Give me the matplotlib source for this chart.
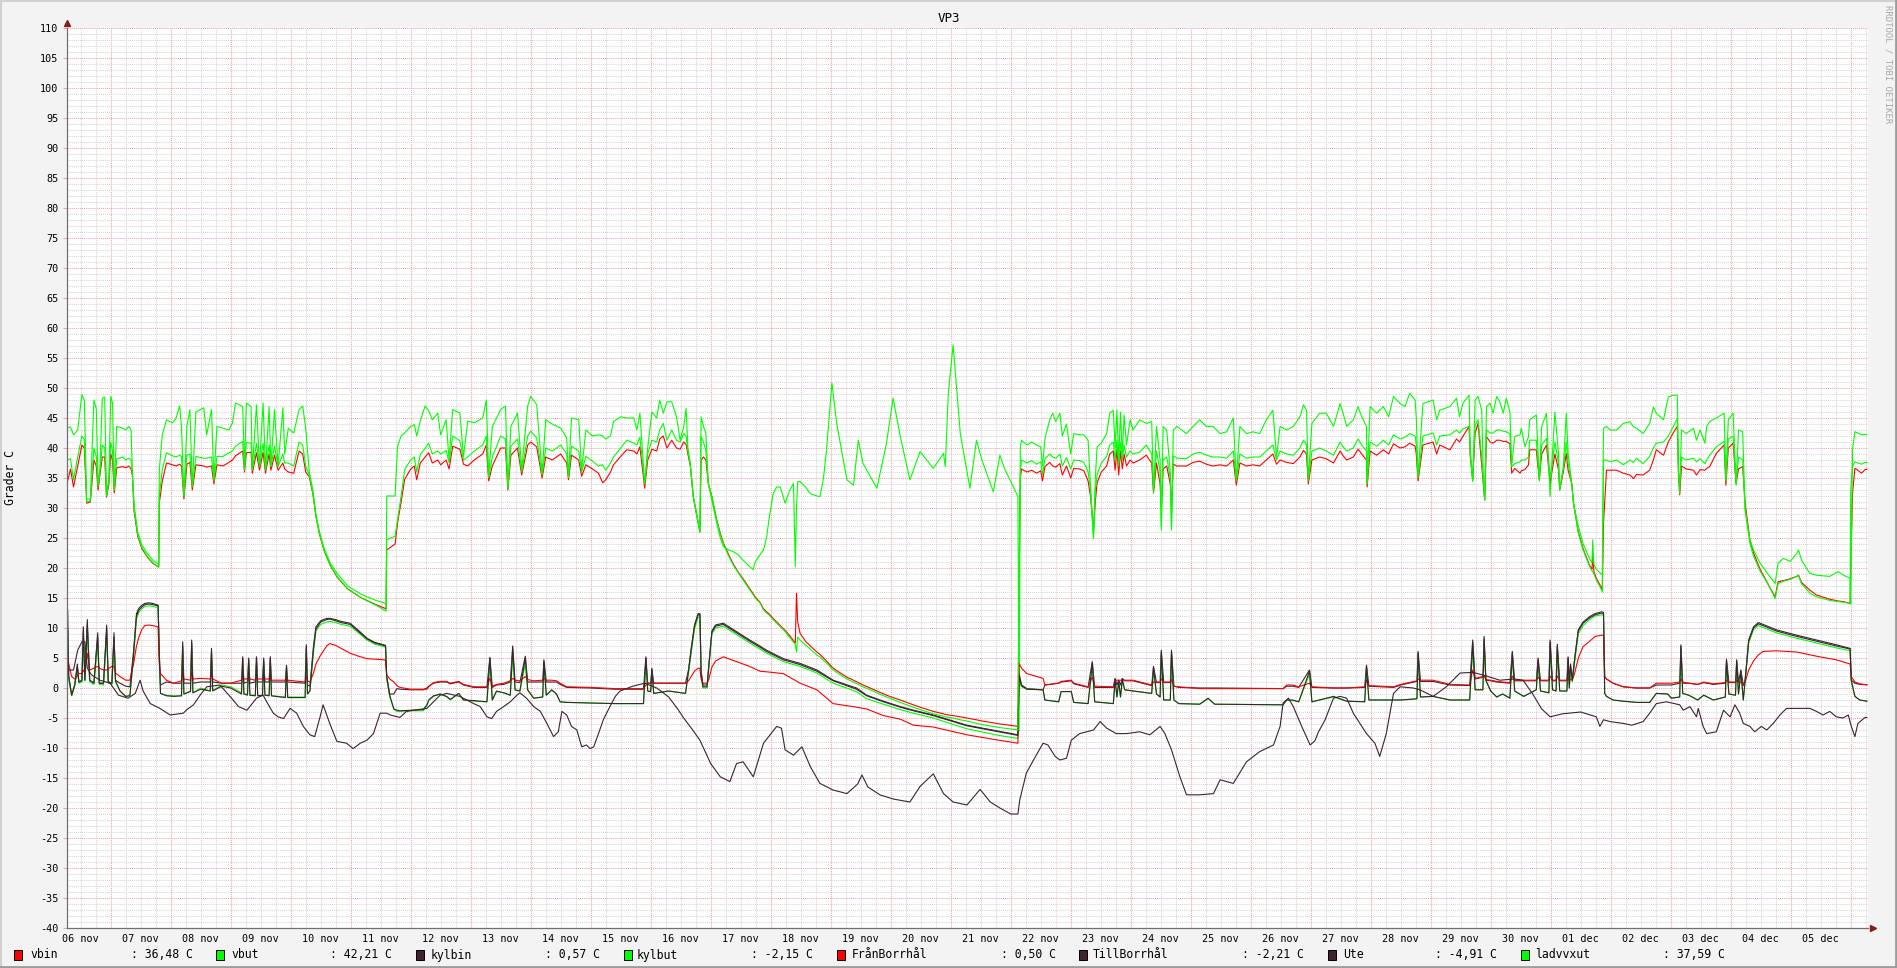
import numpy as np
import matplotlib
matplotlib.use("Agg")
import matplotlib.pyplot as plt
from matplotlib.patches import Rectangle

# time in days since 06 nov 00:00
# heat pump side: vbut / ladvvxut / vbin share one time list
t_hi = [0.27, 0.33, 0.38, 0.45, 0.52, 0.56, 0.60, 0.66, 0.72, 0.76,
        0.79, 0.82, 0.86, 0.90, 0.93, 0.97, 1.00, 1.03, 1.06, 1.10,
        1.20, 1.25, 1.30, 1.34, 1.36, 1.39, 1.45, 1.52, 1.62, 1.71,
        1.80, 1.81, 1.86, 1.93, 2.03, 2.09, 2.15, 2.18, 2.22, 2.27,
        2.32, 2.36, 2.42, 2.55, 2.60, 2.68, 2.72, 2.77, 2.87, 2.97,
        3.03, 3.08, 3.20, 3.23, 3.26, 3.34, 3.36, 3.43, 3.48, 3.54,
        3.58, 3.64, 3.67, 3.73, 3.79, 3.87, 3.90, 3.96, 4.05, 4.14,
        4.20, 4.25, 4.31, 4.37, 4.42, 4.48, 4.56, 4.66, 4.78, 4.95,
        5.18, 5.42, 5.59, 5.60, 5.74, 5.78, 5.84, 5.90, 6.00, 6.06,
        6.10, 6.16, 6.24, 6.30, 6.36, 6.45, 6.50, 6.59, 6.64, 6.70,
        6.82, 6.88, 6.95, 7.06, 7.20, 7.26, 7.30, 7.36, 7.50, 7.58,
        7.62, 7.67, 7.78, 7.85, 7.95, 8.00, 8.10, 8.19, 8.25, 8.36,
        8.50, 8.60, 8.63, 8.68, 8.80, 8.85, 8.92, 9.03, 9.13, 9.20,
        9.25, 9.33, 9.38, 9.50, 9.60, 9.72, 9.77, 9.82, 9.90, 9.95,
        10.02, 10.10, 10.15, 10.21, 10.27, 10.35, 10.43, 10.49, 10.55, 10.59,
        10.62, 10.66, 10.71, 10.77, 10.82, 10.84, 10.88, 10.92, 10.96, 11.02,
        11.10, 11.16, 11.21, 11.30, 11.38, 11.46, 11.54, 11.62, 11.71, 11.74,
        11.82, 11.88, 11.93, 11.97, 12.04, 12.10, 12.16, 12.24, 12.32, 12.38,
        12.41, 12.43, 12.45, 12.49, 12.58, 12.66, 12.77, 12.82, 12.88, 12.93,
        13.02, 13.10, 13.27, 13.38, 13.46, 13.54, 13.77, 13.93, 14.04, 14.16,
        14.32, 14.49, 14.71, 14.88, 14.91, 14.96, 15.04, 15.16, 15.32, 15.43,
        15.52, 15.71, 15.82, 15.90, 16.04, 16.12, 16.14, 16.16, 16.18, 16.27,
        16.35, 16.43, 16.50, 16.53, 16.57, 16.65, 16.70, 16.75, 16.82, 16.86,
        16.93, 17.00, 17.05, 17.15, 17.22, 17.29, 17.33, 17.38, 17.41, 17.44,
        17.51, 17.60, 17.65, 17.71, 17.74, 17.77, 17.80, 17.83, 17.86, 17.89,
        17.93, 17.99, 18.04, 18.15, 18.26, 18.35, 18.38, 18.43, 18.49, 18.51,
        18.54, 18.60, 18.66, 18.68, 18.71, 18.77, 18.93, 19.04, 19.15, 19.26,
        19.37, 19.49, 19.60, 19.71, 19.76, 19.82, 19.93, 20.04, 20.15, 20.26,
        20.37, 20.43, 20.49, 20.60, 20.71, 20.82, 20.88, 20.93, 20.96, 21.02,
        21.15, 21.26, 21.38, 21.49, 21.54, 21.60, 21.71, 21.79, 21.85, 21.93,
        21.94, 21.99, 22.10, 22.21, 22.30, 22.38, 22.49, 22.57, 22.65, 22.74,
        22.76, 22.79, 22.87, 23.04, 23.10, 23.15, 23.32, 23.43, 23.48, 23.54,
        23.64, 23.66, 23.70, 23.74, 23.79, 23.85, 23.88, 23.90, 23.93, 23.99,
        24.04, 24.10, 24.15, 24.21, 24.26, 24.32, 24.35, 24.40, 24.49, 24.51,
        24.57, 24.63, 24.65, 24.76, 24.81, 24.85, 24.93, 24.99, 25.02, 25.07,
        25.13, 25.15, 25.21, 25.26, 25.29, 25.35, 25.38, 25.46, 25.54, 25.65,
        25.69, 25.70, 25.72, 25.76, 25.82, 25.86, 25.88, 25.93, 25.99, 26.10,
        26.21, 26.32, 26.38, 26.43, 26.54, 26.65, 26.71, 26.76, 26.88, 26.96,
        27.04, 27.11, 27.13, 27.15, 27.18, 27.26, 27.38, 27.43, 27.49, 27.57,
        27.60, 27.65, 27.76, 27.89, 27.92, 27.96, 28.04, 28.09, 28.13, 28.20,
        28.24, 28.32, 28.38, 28.49, 28.65, 28.74, 28.79, 28.88, 28.99, 29.10,
        29.13, 29.18, 29.32, 29.43, 29.65, 29.79, 29.88, 29.99, 30.00, 30.03,
        30.07, 30.12, 30.18, 30.24, 30.27]

vbut = [43.3, 43.5, 42.2, 43.0, 48.9, 48.0, 31.5, 31.5, 48.0, 46.5,
        34.0, 36.5, 48.3, 48.5, 32.0, 35.0, 48.6, 47.5, 33.0, 43.6,
        43.3, 43.0, 43.6, 43.0, 36.4, 30.5, 26.0, 23.8, 22.3, 21.2,
        20.6, 36.4, 42.2, 44.7, 44.2, 45.0, 47.0, 43.5, 32.0, 43.6,
        46.4, 33.6, 46.0, 46.7, 42.2, 46.4, 34.7, 43.6, 43.3, 43.0,
        44.2, 47.5, 46.9, 36.4, 47.5, 46.9, 36.4, 47.2, 37.0, 47.5,
        36.4, 46.9, 37.0, 46.4, 37.0, 46.7, 39.0, 43.3, 42.5, 46.4,
        47.0, 43.3, 36.0, 33.0, 29.0, 26.0, 23.2, 20.8, 19.0, 17.0,
        15.6, 14.6, 14.1, 32.0, 32.0, 40.3, 42.0, 42.5, 43.6, 43.9,
        42.0, 44.5, 47.0, 46.2, 44.7, 45.8, 42.2, 44.7, 38.0, 46.4,
        45.8, 38.5, 44.5, 44.2, 45.0, 48.0, 35.3, 43.6, 46.4, 47.0,
        33.5, 43.6, 45.8, 36.5, 47.0, 48.6, 47.2, 35.8, 44.7, 44.0,
        43.3, 41.7, 35.3, 45.0, 44.7, 36.4, 43.0, 42.0, 42.2, 42.0,
        41.5, 42.0, 44.4, 45.2, 45.0, 45.0, 43.0, 45.8, 34.1, 40.0,
        46.0, 45.0, 48.0, 45.8, 47.7, 47.7, 45.2, 41.3, 43.5, 46.6,
        40.0, 37.4, 32.0, 28.8, 26.2, 45.2, 43.6, 42.4, 34.1, 31.2,
        27.5, 25.0, 23.6, 23.0, 22.7, 22.2, 21.3, 20.5, 19.7, 21.0,
        22.2, 23.0, 25.0, 28.0, 32.4, 33.5, 33.5, 30.8, 33.0, 34.1,
        20.2, 30.0, 34.4, 34.4, 33.5, 32.4, 32.0, 31.9, 35.0, 39.7,
        50.8, 44.1, 34.7, 33.8, 41.3, 37.4, 33.3, 40.8, 48.3, 41.9,
        34.7, 39.4, 36.6, 39.1, 36.9, 49.1, 57.2, 42.4, 33.3, 41.3,
        38.0, 32.7, 38.8, 36.5, 33.6, 31.9, -7.2, 40.0, 41.3, 40.5,
        41.0, 40.5, 40.2, 37.0, 41.5, 44.7, 45.8, 44.4, 45.8, 42.0,
        44.0, 39.0, 42.4, 42.2, 42.2, 41.3, 33.6, 24.9, 35.0, 40.2,
        40.8, 42.4, 45.8, 46.3, 40.0, 46.3, 38.0, 46.0, 39.0, 45.5,
        40.5, 44.7, 43.0, 44.7, 44.1, 44.4, 32.5, 43.6, 38.0, 26.3,
        43.6, 43.0, 36.0, 26.3, 43.0, 43.6, 42.4, 43.6, 44.7, 43.6,
        43.6, 42.4, 42.7, 45.0, 34.7, 43.6, 42.4, 42.7, 42.4, 44.7,
        46.3, 38.5, 43.6, 43.0, 43.6, 45.2, 47.2, 46.3, 34.7, 44.1,
        45.8, 45.8, 43.6, 47.4, 45.8, 43.6, 44.7, 46.9, 45.2, 43.6,
        34.1, 46.9, 45.8, 46.9, 45.2, 48.6, 47.4, 46.9, 49.1, 48.0,
        45.0, 35.2, 47.4, 48.0, 44.7, 46.3, 46.9, 48.3, 45.2, 47.5,
        48.8, 39.1, 34.4, 48.0, 48.6, 46.3, 34.1, 31.3, 46.9, 47.5,
        45.8, 48.6, 47.7, 45.8, 48.3, 46.0, 36.9, 41.9, 42.2, 43.3,
        40.2, 41.9, 44.7, 45.5, 34.7, 43.6, 45.8, 31.9, 37.4, 46.0,
        39.1, 33.0, 36.9, 45.8, 39.1, 34.1, 30.8, 27.0, 24.0, 21.5,
        20.9, 24.7, 20.6, 19.8, 19.2, 18.8, 43.3, 43.6, 43.0, 43.0,
        44.1, 44.4, 43.5, 43.3, 42.4, 44.1, 46.8, 45.8, 44.7, 48.5,
        48.8, 48.8, 36.3, 32.4, 43.0, 42.4, 43.3, 41.3, 43.0, 40.8,
        43.6, 44.4, 45.0, 45.8, 34.7, 44.7, 45.8, 33.8, 43.0, 42.7,
        29.7, 24.7, 23.0, 20.8, 18.6, 17.4, 20.8, 21.6, 21.1, 22.4,
        23.0, 21.3, 19.1, 18.8, 18.6, 19.4, 18.8, 18.3, 14.0, 39.7,
        42.7, 42.5, 42.2, 42.3, 42.21]

ladvvxut = [38.0, 38.2, 34.7, 38.5, 42.0, 41.5, 31.0, 31.2, 40.0, 38.5,
            33.5, 36.0, 40.5, 40.0, 32.0, 34.5, 41.0, 39.5, 33.0, 38.2,
            38.5, 38.0, 38.3, 38.0, 36.0, 30.0, 25.5, 23.4, 21.8, 20.8,
            20.1, 32.0, 36.4, 39.2, 38.7, 38.5, 38.8, 38.5, 32.0, 38.8,
            39.0, 33.5, 38.6, 38.3, 38.3, 38.5, 34.5, 38.6, 38.6, 39.2,
            39.5, 40.3, 41.1, 36.3, 40.9, 40.8, 36.3, 40.8, 36.9, 40.8,
            36.3, 40.5, 36.9, 40.3, 36.9, 39.0, 37.5, 37.5, 37.0, 41.0,
            40.5, 37.0, 35.5, 32.5, 28.7, 25.7, 22.9, 20.4, 18.5, 16.5,
            15.0, 13.8, 12.8, 24.7, 25.3, 28.0, 32.0, 36.4, 38.0, 38.5,
            36.0, 38.9, 40.0, 40.8, 39.0, 39.5, 39.0, 39.6, 37.5, 42.0,
            41.2, 38.0, 38.5, 39.5, 40.5, 42.0, 35.0, 38.5, 42.0, 41.5,
            33.3, 40.3, 41.5, 36.0, 42.0, 42.8, 41.7, 35.5, 40.0, 39.5,
            40.5, 39.0, 35.0, 40.3, 39.5, 36.0, 38.6, 37.8, 37.0, 37.2,
            36.3, 37.5, 38.5, 40.0, 41.3, 40.8, 40.5, 41.8, 34.0, 39.0,
            41.3, 41.0, 43.0, 44.1, 41.3, 43.0, 41.3, 41.0, 42.4, 42.0,
            39.5, 37.2, 31.9, 28.6, 26.0, 41.9, 41.0, 39.5, 34.1, 31.9,
            28.0, 25.6, 24.0, 22.0, 20.4, 19.2, 18.0, 16.8, 15.5, 15.0,
            14.2, 13.0, 12.5, 12.2, 11.4, 10.8, 10.2, 9.4, 8.4, 7.6,
            7.3, 6.0, 8.5, 8.0, 7.2, 6.5, 5.5, 5.2, 4.6, 4.2,
            3.2, 2.6, 1.5, 1.0, 0.6, 0.2, -0.8, -1.5, -1.9, -2.4,
            -3.0, -3.6, -4.3, -4.7, -4.8, -4.9, -5.0, -5.3, -5.6, -5.9,
            -6.1, -6.4, -6.6, -6.7, -6.9, -7.0, 20.0, 36.0, 38.0, 37.5,
            37.9, 37.3, 37.7, 35.5, 38.2, 39.0, 38.5, 38.3, 39.0, 37.0,
            38.4, 36.5, 38.0, 37.9, 37.6, 36.0, 33.0, 25.0, 33.0, 35.5,
            37.5, 38.6, 40.5, 41.0, 38.0, 41.3, 37.0, 41.0, 38.0, 40.5,
            38.5, 39.5, 39.0, 39.3, 40.5, 39.0, 33.0, 39.5, 36.0, 27.0,
            38.0, 38.5, 35.0, 27.0, 38.7, 38.3, 38.2, 39.0, 39.3, 38.8,
            38.5, 38.5, 38.3, 39.5, 34.5, 39.0, 38.3, 38.5, 38.5, 39.5,
            40.5, 38.0, 39.5, 39.0, 38.8, 40.0, 41.3, 40.5, 34.5, 39.5,
            40.0, 39.5, 38.8, 41.0, 40.2, 39.5, 40.0, 41.5, 40.5, 39.5,
            34.0, 41.0, 40.3, 41.3, 40.5, 42.2, 41.5, 41.8, 42.4, 42.0,
            40.5, 35.0, 42.0, 42.5, 40.5, 42.0, 42.2, 43.0, 42.5, 43.2,
            43.6, 39.5, 34.5, 43.8, 44.7, 38.5, 34.0, 31.5, 43.0, 42.5,
            42.5, 43.0, 43.0, 42.8, 42.7, 42.4, 36.9, 37.4, 37.7, 38.0,
            38.0, 38.5, 41.3, 41.3, 34.5, 40.5, 41.6, 35.2, 37.0, 41.0,
            37.4, 33.0, 36.5, 41.0, 37.4, 34.1, 30.8, 25.8, 23.0, 20.2,
            19.5, 19.4, 19.0, 18.0, 16.9, 16.0, 38.0, 38.0, 37.7, 38.0,
            37.2, 38.0, 37.6, 38.3, 37.4, 38.6, 40.0, 40.8, 41.0, 42.0,
            43.5, 44.9, 36.0, 34.1, 38.5, 38.0, 38.3, 37.7, 38.2, 37.4,
            38.0, 38.8, 40.2, 41.1, 34.5, 41.5, 42.0, 34.0, 38.5, 38.0,
            29.7, 24.1, 22.0, 19.5, 16.8, 14.9, 17.4, 17.8, 18.1, 18.6,
            18.8, 17.4, 15.8, 15.2, 14.6, 14.4, 14.3, 14.1, 33.0, 36.9,
            37.7, 37.5, 37.3, 37.6, 37.59]

vbin = [34.0, 36.5, 33.5, 37.0, 40.5, 40.0, 30.8, 31.0, 38.0, 37.0,
        33.0, 35.5, 38.5, 38.5, 31.8, 34.0, 39.0, 38.0, 32.5, 36.7,
        36.9, 36.7, 37.0, 36.5, 35.5, 29.5, 25.3, 23.2, 21.7, 20.7,
        20.2, 30.8, 34.5, 37.5, 37.2, 37.0, 37.3, 37.0, 31.5, 37.3,
        37.6, 33.0, 37.2, 37.0, 36.8, 37.0, 34.0, 37.2, 37.0, 37.6,
        38.0, 38.7, 39.5, 36.0, 39.2, 39.3, 35.8, 39.2, 36.3, 39.3,
        35.8, 39.0, 36.3, 38.8, 36.3, 37.5, 36.5, 36.0, 35.8, 39.5,
        39.0, 36.0, 35.2, 32.3, 28.6, 25.6, 22.8, 20.4, 18.4, 16.5,
        15.0, 13.9, 13.2, 23.0, 24.0, 27.5, 31.0, 34.8, 36.5, 37.0,
        34.7, 37.5, 38.5, 39.2, 37.5, 38.0, 37.2, 38.0, 36.5, 40.3,
        39.8, 37.3, 37.0, 38.0, 39.0, 40.5, 34.5, 37.0, 40.0, 40.0,
        33.0, 38.8, 40.0, 35.5, 40.5, 41.0, 40.2, 35.0, 38.5, 38.0,
        39.0, 37.5, 34.7, 38.8, 38.0, 35.3, 37.2, 36.5, 35.8, 34.2,
        34.7, 36.0, 37.2, 38.6, 39.7, 39.5, 39.0, 40.2, 33.3, 38.0,
        39.8, 39.5, 41.5, 42.0, 40.0, 41.3, 40.0, 39.8, 41.0, 40.6,
        39.0, 37.0, 31.8, 28.6, 26.0, 38.0, 38.5, 38.0, 34.1, 31.9,
        28.0, 25.8, 24.2, 22.2, 20.6, 19.3, 18.2, 17.0, 15.7, 15.2,
        14.3, 13.2, 12.7, 12.4, 11.6, 11.0, 10.4, 9.6, 8.7, 7.9,
        7.5, 15.8, 11.0, 9.1, 7.8, 7.0, 6.0, 5.6, 5.0, 4.5,
        3.5, 2.9, 1.8, 1.3, 0.9, 0.5, -0.5, -1.2, -1.6, -2.0,
        -2.6, -3.2, -3.9, -4.3, -4.4, -4.5, -4.6, -4.8, -5.1, -5.3,
        -5.5, -5.8, -6.0, -6.1, -6.3, -6.4, 17.0, 35.0, 36.5, 36.0,
        36.3, 35.8, 36.2, 34.5, 36.9, 37.6, 37.0, 36.8, 37.4, 35.5,
        37.0, 35.0, 36.6, 36.5, 36.2, 34.5, 32.0, 26.3, 31.0, 34.2,
        36.0, 37.0, 39.0, 39.5, 36.3, 39.8, 35.5, 39.5, 36.5, 39.0,
        37.0, 38.0, 37.5, 38.0, 38.8, 37.5, 32.5, 37.5, 34.0, 30.2,
        36.5, 37.0, 34.0, 30.2, 37.3, 37.0, 37.0, 37.6, 37.8, 37.3,
        37.0, 37.2, 37.0, 38.0, 33.8, 37.5, 37.0, 37.2, 37.0, 38.0,
        39.0, 37.3, 38.0, 37.6, 37.4, 38.5, 39.6, 39.0, 34.0, 38.0,
        38.5, 38.2, 37.5, 39.5, 38.7, 38.0, 38.5, 39.8, 39.0, 38.0,
        33.5, 39.5, 38.8, 39.7, 39.0, 40.7, 40.0, 40.2, 40.8, 40.3,
        39.0, 34.5, 40.5, 41.0, 39.0, 40.5, 39.7, 41.5, 41.0, 42.0,
        43.6, 38.5, 34.7, 42.5, 44.1, 37.0, 33.5, 31.3, 41.9, 41.0,
        40.8, 41.3, 41.3, 41.1, 41.1, 40.7, 35.8, 36.6, 35.8, 36.2,
        36.4, 37.2, 39.7, 39.7, 34.7, 39.0, 40.5, 34.1, 36.0, 39.0,
        36.4, 33.0, 36.0, 39.1, 36.3, 34.1, 30.8, 26.0, 23.2, 20.4,
        19.8, 22.7, 19.4, 18.3, 17.2, 16.4, 27.4, 36.3, 36.3, 36.3,
        35.8, 35.5, 34.9, 35.6, 35.5, 36.3, 38.0, 39.7, 38.8, 41.0,
        42.5, 43.6, 35.5, 32.2, 37.0, 36.5, 36.3, 35.5, 36.4, 36.3,
        36.6, 36.9, 39.1, 40.5, 33.8, 40.0, 40.8, 34.1, 36.5, 36.9,
        30.8, 24.7, 22.5, 19.8, 16.8, 15.2, 17.7, 17.9, 18.2, 18.6,
        18.8, 17.6, 16.3, 15.5, 14.8, 14.5, 14.4, 14.1, 19.7, 32.4,
        36.6, 36.3, 35.8, 36.4, 36.48]

# brine / borehole side: kylbin / kylbut / TillBorrhål / FrånBorrhål share one time list
t_lo = [0.27, 0.283, 0.30, 0.35, 0.40, 0.444, 0.47, 0.52, 0.544, 0.57,
        0.61, 0.65, 0.72, 0.783, 0.81, 0.88, 0.933, 0.96, 1.02, 1.055,
        1.08, 1.155, 1.25, 1.32, 1.38, 1.43, 1.47, 1.52, 1.57, 1.63,
        1.70, 1.79, 1.81, 1.83, 1.93, 2.05, 2.18, 2.20, 2.22, 2.33,
        2.35, 2.37, 2.50, 2.66, 2.68, 2.70, 2.85, 3.00, 3.18, 3.20,
        3.22, 3.28, 3.30, 3.32, 3.41, 3.43, 3.45, 3.53, 3.55, 3.57,
        3.64, 3.66, 3.68, 3.91, 3.93, 3.95, 4.24, 4.26, 4.28, 4.32,
        4.38, 4.42, 4.50, 4.60, 4.65, 4.75, 4.84, 4.99, 5.13, 5.27,
        5.40, 5.55, 5.58, 5.60, 5.65, 5.72, 5.77, 5.82, 6.00, 6.21,
        6.27, 6.30, 6.38, 6.43, 6.49, 6.60, 6.66, 6.80, 6.88, 7.05,
        7.27, 7.32, 7.36, 7.43, 7.55, 7.66, 7.70, 7.74, 7.82, 7.91,
        7.95, 8.05, 8.20, 8.22, 8.26, 8.35, 8.43, 8.49, 8.60, 9.00,
        9.40, 9.88, 9.92, 9.95, 10.00, 10.02, 10.05, 10.30, 10.58, 10.63,
        10.68, 10.73, 10.79, 10.82, 10.84, 10.87, 10.94, 10.97, 11.02, 11.08,
        11.21, 11.40, 11.65, 11.82, 11.93, 12.21, 12.49, 12.77, 13.04, 13.43,
        13.60, 13.88, 14.16, 14.38, 14.71, 15.27, 15.80, 16.12, 16.14, 16.18,
        16.27, 16.54, 16.57, 16.80, 16.84, 17.01, 17.05, 17.29, 17.36, 17.40,
        17.71, 17.74, 17.77, 17.80, 17.83, 17.86, 17.90, 18.04, 18.35, 18.38,
        18.43, 18.49, 18.51, 18.55, 18.66, 18.68, 18.72, 18.80, 19.15, 19.29,
        19.40, 20.54, 20.60, 20.70, 20.80, 20.98, 21.02, 21.38, 21.60, 21.90,
        21.93, 21.97, 22.38, 22.50, 22.77, 22.79, 22.83, 23.04, 23.32, 23.65,
        23.70, 23.74, 23.87, 23.89, 23.92, 24.00, 24.10, 24.20, 24.32, 24.36,
        24.40, 24.55, 24.76, 24.79, 24.83, 24.97, 24.99, 25.03, 25.09, 25.11,
        25.15, 25.27, 25.29, 25.31, 25.33, 25.36, 25.40, 25.46, 25.54, 25.65,
        25.74, 25.85, 25.88, 25.90, 25.93, 26.04, 26.21, 26.43, 26.65, 26.76,
        26.95, 27.01, 27.15, 27.17, 27.20, 27.30, 27.45, 27.55, 27.71, 27.91,
        27.93, 27.97, 28.08, 28.10, 28.13, 28.17, 28.21, 28.24, 28.30, 28.38,
        28.46, 28.54, 28.76, 29.10, 29.43, 29.76, 29.99, 30.01, 30.07, 30.15,
        30.27]

kylbin = [3.6, 13.0, 2.0, -1.2, 0.5, 4.0, 1.0, 1.3, 10.2, 1.3,
          11.4, 1.3, 0.8, 9.2, 0.8, 0.8, 10.5, 1.0, 0.8, 9.2,
          1.3, 0.8, 0.3, 0.2, 6.0, 12.4, 13.3, 13.8, 14.1, 14.2,
          14.1, 13.8, 6.0, 0.5, 1.0, 0.8, 0.8, 7.7, 0.8, 0.8,
          8.0, 0.8, 1.0, 1.0, 6.6, 1.0, 0.8, 0.8, 0.8, 5.2,
          0.8, 1.0, 5.0, 0.8, 1.0, 5.2, 1.0, 1.0, 5.0, 1.0,
          1.0, 5.2, 1.0, 1.0, 3.8, 1.0, 0.8, 7.2, 0.5, 0.3,
          7.0, 10.2, 11.2, 11.6, 11.6, 11.4, 11.1, 10.8, 9.6, 8.3,
          7.6, 7.2, 7.1, 1.9, -1.0, -1.0, -0.1, -0.2, -0.3, -0.3,
          0.0, 0.3, 0.8, 0.9, 1.0, 1.0, 0.7, 1.0, 0.5, 0.1,
          0.1, 5.1, 0.1, 0.5, 0.6, 1.0, 7.0, 1.0, 0.9, 5.3,
          1.0, 1.0, 1.0, 4.7, 1.0, 1.0, 1.0, 0.6, 0.1, 0.0,
          -0.2, -0.2, 5.2, 0.8, 0.8, 3.3, 0.8, 0.8, 0.8, 3.0,
          7.0, 10.5, 12.4, 12.4, 3.0, 0.5, 0.5, 4.0, 9.5, 10.5,
          10.8, 9.6, 8.0, 7.0, 6.3, 4.9, 4.1, 3.0, 1.3, 0.0,
          -1.2, -2.2, -3.1, -3.7, -4.5, -6.2, -7.2, -7.8, 2.4, 0.5,
          -0.1, -0.3, 0.5, 0.8, 1.0, 1.2, 0.7, 0.1, 4.4, 0.1,
          0.1, 1.6, 0.5, 1.3, 0.5, 1.6, 1.2, 1.2, 0.4, 3.6,
          0.9, 0.9, 6.3, 0.9, 0.9, 6.3, 0.3, 0.1, 0.0, 0.0,
          0.0, -0.1, 0.3, 0.3, 0.1, 3.0, 0.1, 0.0, 0.0, 0.1,
          3.8, 0.3, 0.1, 0.5, 1.1, 6.1, 1.1, 1.1, 0.5, 0.4,
          8.0, 1.5, 1.8, 8.6, 1.3, 1.2, 1.0, 0.9, 0.8, 6.1,
          1.2, 1.2, 1.2, 5.0, 1.2, 1.2, 8.0, 1.2, 1.2, 7.3,
          1.2, 1.2, 5.2, 0.8, 4.0, 1.3, 5.0, 9.7, 11.0, 11.9,
          12.4, 12.7, 12.6, 1.9, 1.5, 0.8, 0.2, 0.0, 0.0, 0.5,
          0.5, 0.5, 0.8, 7.2, 0.8, 0.8, 0.6, 0.9, 0.6, 0.8,
          4.8, 0.9, 0.9, 4.7, 0.9, 3.0, 0.4, 1.3, 8.0, 10.2,
          10.9, 10.6, 9.7, 8.8, 8.0, 7.2, 6.6, 1.3, 0.8, 0.6,
          0.57]

kylbut = [2.5, 8.0, 1.5, -1.3, 0.3, 3.0, 0.8, 1.0, 8.0, 1.2,
          9.5, 1.0, 0.6, 7.5, 0.6, 0.5, 8.5, 0.8, 0.6, 7.5,
          1.0, -0.5, -1.4, -1.2, 5.0, 11.5, 12.6, 13.2, 13.6, 13.7,
          13.6, 13.4, 5.0, -0.9, -1.2, -1.3, -1.3, 6.0, -1.0, -0.5,
          6.5, -0.8, 0.0, -0.5, 5.0, -0.4, 0.5, 0.2, -0.8, 4.0,
          -1.0, -1.0, 4.0, -1.2, -1.2, 4.0, -1.3, -1.2, 3.8, -1.2,
          -1.2, 4.0, -1.3, -1.5, 3.0, -1.5, -1.5, 6.0, -1.0, -0.5,
          6.0, 9.5, 10.6, 11.0, 11.1, 10.9, 10.6, 10.3, 9.2, 8.0,
          7.3, 6.9, 6.8, 1.5, -1.5, -3.6, -3.9, -3.9, -3.8, -3.8,
          -3.0, -2.1, -1.4, -1.2, -1.0, -1.5, -2.0, -0.9, -2.0, -2.2,
          -2.3, 4.0, -2.0, -0.6, -0.8, -1.2, 5.5, -0.4, -0.5, 4.0,
          -0.4, -1.7, -1.5, 3.5, -1.2, -0.4, -1.0, -2.3, -2.4, -2.5,
          -2.6, -2.6, 4.0, -0.5, -0.6, 2.5, -0.9, -0.5, -0.9, 2.5,
          6.2, 9.8, 11.8, 11.8, 2.0, 0.0, 0.0, 3.5, 9.0, 10.0,
          10.3, 9.1, 7.5, 6.5, 5.8, 4.4, 3.6, 2.5, 0.8, -0.6,
          -1.8, -2.7, -3.6, -4.2, -5.0, -6.8, -7.9, -8.4, 1.0, 0.2,
          -0.2, -0.3, -2.0, -2.3, -0.6, -0.6, -2.4, -2.6, 3.5, -2.3,
          -2.6, 1.0, -1.5, 0.8, -1.5, 1.0, -0.3, -0.5, -0.9, 2.8,
          -1.0, -1.5, 5.0, -2.0, -2.0, 5.0, -2.0, -2.6, -2.7, -1.8,
          -2.7, -2.8, -2.0, -2.1, -2.3, 2.3, -2.3, -1.5, -2.2, -2.3,
          3.0, -2.0, -2.0, -2.0, -1.8, 5.0, -1.5, -1.4, -2.0, -2.0,
          6.5, -0.3, -0.3, 7.0, 1.2, -0.5, -1.5, -1.0, -1.7, 5.0,
          -0.5, -1.4, -0.3, 4.0, -0.5, -0.8, 6.5, -0.3, -0.5, 6.0,
          -0.5, -0.5, 4.0, 0.0, 3.0, 1.0, 4.3, 9.0, 10.4, 11.4,
          12.0, 12.2, 12.1, -0.9, -1.4, -2.0, -2.2, -2.4, -2.4, -0.9,
          -1.0, -1.7, -1.5, 6.0, -0.9, -1.2, -2.0, -1.2, -2.0, -1.5,
          3.8, -1.0, -1.2, 3.8, -1.0, 2.5, -2.0, 1.0, 7.5, 9.7,
          10.4, 10.1, 9.2, 8.3, 7.5, 6.7, 6.2, 1.0, -1.4, -2.0,
          -2.15]

tillborrhal = [3.0, 10.0, 1.8, -1.2, 0.5, 3.5, 1.0, 1.2, 9.5, 1.3,
               10.5, 1.3, 0.8, 8.5, 0.8, 0.8, 9.8, 1.0, 0.8, 8.5,
               1.2, -0.5, -1.4, -1.3, 5.5, 12.0, 13.0, 13.5, 13.9, 14.0,
               13.9, 13.7, 5.5, -0.9, -1.3, -1.4, -1.3, 7.0, -1.0, -0.6,
               7.5, -0.8, -0.2, -0.5, 6.0, -0.5, 0.3, 0.0, -1.0, 5.0,
               -1.0, -1.2, 4.6, -1.2, -1.3, 5.0, -1.3, -1.2, 4.6, -1.2,
               -1.3, 5.0, -1.3, -1.6, 3.5, -1.6, -1.6, 6.8, -1.0, -0.5,
               6.5, 9.8, 11.0, 11.4, 11.5, 11.2, 10.9, 10.6, 9.4, 8.2,
               7.5, 7.1, 7.0, 1.8, -1.2, -3.5, -3.7, -3.8, -3.7, -3.6,
               -2.8, -2.0, -1.3, -1.2, -1.0, -1.4, -1.9, -0.9, -2.0, -2.1,
               -2.3, 5.0, -2.0, -0.5, -0.8, -1.2, 6.5, -0.3, -0.5, 5.0,
               -0.3, -1.7, -1.5, 4.4, -1.2, -0.3, -1.0, -2.3, -2.4, -2.5,
               -2.6, -2.6, 5.0, -0.5, -0.6, 3.0, -0.9, -0.5, -0.9, 2.8,
               6.7, 10.3, 12.2, 12.2, 2.5, 0.2, 0.2, 3.8, 9.3, 10.3,
               10.6, 9.4, 7.8, 6.8, 6.1, 4.7, 3.9, 2.8, 1.2, -0.2,
               -1.3, -2.3, -3.2, -3.8, -4.6, -6.3, -7.3, -7.9, 2.0, 0.4,
               -0.2, -0.3, -2.0, -2.3, -0.6, -0.6, -2.4, -2.6, 4.2, -2.3,
               -2.6, 1.5, -1.5, 1.2, -1.5, 1.5, -0.3, -0.5, -0.9, 3.4,
               -1.0, -1.5, 6.0, -2.0, -2.0, 6.0, -2.0, -2.6, -2.7, -1.7,
               -2.7, -2.8, -2.0, -2.0, -2.3, 2.8, -2.3, -1.4, -2.2, -2.3,
               3.6, -2.0, -2.0, -2.0, -1.8, 5.8, -1.5, -1.4, -2.0, -2.0,
               7.5, -0.3, -0.3, 8.2, 1.3, -0.5, -1.5, -1.0, -1.7, 5.8,
               -0.5, -1.4, -0.3, 4.7, -0.5, -0.8, 7.6, -0.3, -0.5, 7.0,
               -0.5, -0.5, 5.0, 0.0, 3.8, 1.3, 4.8, 9.5, 10.8, 11.7,
               12.2, 12.5, 12.4, -0.9, -1.4, -2.0, -2.2, -2.4, -2.4, -0.9,
               -1.0, -1.7, -1.5, 6.9, -0.9, -1.2, -2.0, -1.2, -2.0, -1.5,
               4.5, -1.0, -1.2, 4.5, -1.0, 2.8, -2.0, 1.2, 7.8, 10.0,
               10.7, 10.4, 9.5, 8.6, 7.8, 7.0, 6.5, 1.3, -1.4, -2.0,
               -2.21]

franborrhal = [3.6, 5.8, 4.0, 1.9, 1.5, 2.0, 2.4, 2.4, 3.0, 2.5,
               5.8, 3.0, 3.3, 3.6, 3.3, 3.0, 3.0, 3.2, 3.6, 3.6,
               2.5, 1.9, 1.3, 1.3, 4.0, 7.0, 8.5, 9.8, 10.4, 10.5,
               10.4, 10.2, 4.0, 2.4, 1.3, 0.8, 1.2, 2.5, 1.5, 1.3,
               2.8, 1.5, 1.6, 1.5, 2.6, 1.5, 0.8, 0.8, 1.3, 2.2,
               1.5, 1.5, 2.0, 1.5, 1.3, 2.2, 1.5, 1.5, 2.0, 1.5,
               1.5, 2.2, 1.3, 1.3, 2.0, 1.3, 1.0, 2.0, 1.2, 1.0,
               2.5, 4.0, 5.5, 7.0, 7.4, 7.1, 6.6, 5.8, 5.3, 4.9,
               4.8, 4.7, 4.6, 2.2, 1.5, 1.0, 0.4, 0.1, -0.2, -0.2,
               -0.2, 0.2, 0.9, 1.0, 1.1, 1.1, 0.8, 1.1, 0.6, 0.2,
               0.2, 1.6, 0.3, 0.6, 0.8, 1.2, 1.6, 1.3, 1.2, 1.9,
               1.4, 1.2, 1.3, 1.6, 1.3, 1.3, 1.2, 0.8, 0.2, 0.1,
               -0.1, -0.1, 0.5, 0.8, 0.8, 1.0, 0.8, 0.8, 0.8, 1.2,
               2.0, 2.8, 3.3, 3.3, 1.5, 0.8, 0.8, 1.5, 3.5, 4.5,
               5.2, 4.5, 3.6, 2.8, 2.7, 2.4, 0.8, -0.3, -2.6, -3.2,
               -3.5, -4.6, -5.2, -6.2, -6.5, -7.8, -8.7, -9.2, 4.1, 3.3,
               2.4, 1.6, 0.5, 0.8, 1.1, 1.3, 0.8, 0.2, 1.8, 0.3,
               0.2, 1.3, 1.3, 1.3, 1.3, 1.3, 1.3, 1.3, 0.5, 1.0,
               1.0, 1.0, 1.5, 1.0, 1.0, 1.4, 0.3, 0.2, -0.1, -0.1,
               -0.1, -0.1, 0.5, 0.5, 0.2, 0.8, 0.2, 0.0, 0.0, 0.2,
               1.3, 0.4, 0.2, 0.6, 1.2, 1.5, 1.3, 1.3, 0.6, 0.5,
               3.0, 1.6, 1.9, 2.0, 1.4, 1.3, 1.1, 1.0, 0.9, 2.0,
               1.3, 1.3, 1.3, 1.8, 1.3, 1.3, 2.0, 1.3, 1.3, 2.0,
               1.3, 1.3, 1.8, 1.3, 1.4, 1.3, 2.5, 5.0, 6.9, 7.8,
               8.6, 8.8, 8.8, 1.9, 1.5, 0.8, 0.2, 0.0, 0.0, 0.8,
               0.8, 0.8, 1.0, 1.5, 1.0, 0.8, 0.6, 1.0, 0.7, 0.9,
               1.3, 1.0, 1.0, 1.3, 1.0, 1.0, 0.5, 1.0, 3.0, 4.5,
               5.5, 6.1, 6.2, 6.0, 5.3, 4.7, 4.0, 1.9, 1.0, 0.7,
               0.50]

# outdoor temperature
t_ute = [0.27, 0.38, 0.45, 0.52, 0.57, 0.61, 0.68, 0.82, 0.99, 1.13,
         1.29, 1.41, 1.49, 1.54, 1.66, 1.82, 1.99, 2.21, 2.27, 2.38,
         2.49, 2.60, 2.82, 3.04, 3.13, 3.27, 3.43, 3.54, 3.60, 3.71,
         3.79, 3.88, 3.99, 4.10, 4.21, 4.32, 4.40, 4.49, 4.54, 4.65,
         4.77, 4.93, 5.04, 5.16, 5.27, 5.38, 5.49, 5.60, 5.66, 5.82,
         5.93, 6.05, 6.27, 6.38, 6.49, 6.60, 6.82, 7.05, 7.16, 7.27,
         7.35, 7.43, 7.55, 7.66, 7.77, 7.82, 7.93, 8.05, 8.16, 8.27,
         8.38, 8.46, 8.52, 8.60, 8.68, 8.77, 8.85, 8.93, 8.99, 9.05,
         9.13, 9.21, 9.32, 9.41, 9.49, 9.70, 9.90, 10.10, 10.30, 10.45,
         10.55, 10.70, 10.82, 11.00, 11.16, 11.32, 11.43, 11.54, 11.71, 11.88,
         12.10, 12.18, 12.24, 12.38, 12.52, 12.66, 12.82, 13.04, 13.27, 13.45,
         13.52, 13.62, 13.82, 14.04, 14.32, 14.49, 14.71, 14.88, 15.04, 15.27,
         15.49, 15.66, 15.82, 16.00, 16.12, 16.15, 16.26, 16.38, 16.54, 16.62,
         16.74, 16.82, 16.93, 17.01, 17.15, 17.38, 17.49, 17.60, 17.76, 17.93,
         18.15, 18.32, 18.49, 18.57, 18.68, 18.82, 18.93, 19.15, 19.38, 19.49,
         19.71, 19.93, 20.15, 20.38, 20.49, 20.54, 20.63, 20.71, 20.85, 20.99,
         21.07, 21.13, 21.24, 21.38, 21.49, 21.60, 21.71, 21.82, 21.93, 22.07,
         22.15, 22.26, 22.38, 22.49, 22.71, 22.82, 23.04, 23.26, 23.49, 23.71,
         23.93, 24.15, 24.40, 24.54, 24.70, 24.85, 24.99, 25.20, 25.50, 25.76,
         25.82, 25.88, 25.99, 26.21, 26.35, 26.54, 26.65, 26.76, 26.93, 27.15,
         27.21, 27.32, 27.43, 27.46, 27.54, 27.60, 27.76, 27.88, 27.99, 28.07,
         28.15, 28.21, 28.32, 28.40, 28.51, 28.60, 28.71, 28.82, 28.93, 29.10,
         29.32, 29.43, 29.54, 29.65, 29.76, 29.87, 29.96, 30.01, 30.07, 30.12,
         30.24, 30.27]

ute = [3.0, 3.0, 6.3, 7.7, 7.7, 3.3, 2.2, 1.3, 0.8, -1.2,
       -1.7, -0.9, 1.3, -0.5, -2.6, -3.4, -4.5, -4.2, -3.6, -2.8,
       -1.2, 0.2, 0.5, -2.0, -3.1, -3.7, -1.7, -1.2, -2.3, -4.2,
       -4.8, -5.1, -3.4, -4.2, -6.4, -7.8, -8.1, -4.8, -2.8, -5.9,
       -8.9, -9.2, -10.1, -9.2, -8.7, -7.6, -4.2, -4.2, -4.5, -4.9,
       -3.9, -3.7, -3.4, -2.3, -1.2, -0.9, -1.4, -2.6, -3.1, -4.8,
       -5.1, -3.9, -3.1, -2.3, -1.2, -0.8, -1.7, -3.1, -3.9, -5.9,
       -8.1, -7.3, -3.9, -4.5, -6.4, -7.0, -9.8, -9.5, -10.1, -9.8,
       -7.6, -5.3, -3.1, -1.4, -0.5, 0.3, 0.8, 0.0, -1.5, -3.5,
       -5.0, -7.0, -8.7, -12.6, -14.8, -15.6, -12.6, -12.3, -14.8, -9.2,
       -6.4, -6.7, -10.3, -11.2, -9.8, -13.1, -15.9, -17.0, -17.6, -16.0,
       -14.5, -16.5, -17.8, -18.5, -19.0, -16.4, -14.3, -17.6, -19.0, -19.5,
       -16.9, -19.0, -20.0, -21.0, -21.0, -18.7, -14.2, -12.0, -9.2, -9.5,
       -11.4, -12.0, -11.7, -8.7, -7.6, -7.0, -5.6, -6.7, -7.6, -7.6,
       -7.3, -7.8, -6.4, -7.6, -10.3, -14.8, -17.8, -17.8, -17.6, -15.3,
       -15.9, -12.3, -10.6, -9.5, -6.4, -2.5, -1.7, -3.1, -6.4, -9.5,
       -8.8, -7.3, -5.3, -1.7, -1.4, -1.7, -4.2, -5.9, -7.6, -9.2,
       -11.4, -7.6, -0.9, 0.2, 0.0, -0.3, -1.4, 0.2, 2.5, 2.6,
       2.0, 1.3, 1.5, 1.3, -1.0, -3.5, -4.8, -4.3, -4.0, -4.8,
       -6.4, -5.3, -5.6, -5.9, -6.2, -5.6, -4.2, -2.6, -2.3, -2.8,
       -3.7, -3.1, -4.8, -3.4, -6.4, -7.6, -7.3, -3.7, -4.8, -2.8,
       -4.2, -5.9, -6.4, -7.3, -6.4, -7.0, -5.9, -4.5, -3.4, -3.4,
       -3.4, -3.9, -4.5, -3.9, -4.8, -5.0, -4.5, -6.4, -8.1, -5.9,
       -4.9, -4.91]

for name, tt, vv in [("vbut", t_hi, vbut), ("ladvvxut", t_hi, ladvvxut), ("vbin", t_hi, vbin),
                     ("kylbin", t_lo, kylbin), ("kylbut", t_lo, kylbut),
                     ("tillborrhal", t_lo, tillborrhal), ("franborrhal", t_lo, franborrhal),
                     ("ute", t_ute, ute)]:
    assert len(tt) == len(vv), (name, len(tt), len(vv))

day_labels = ["%02d nov" % d for d in range(6, 31)] + ["%02d dec" % d for d in range(1, 6)]

legend_names = ["vbin", "vbut", "kylbin", "kylbut", "FrånBorrhål", "TillBorrhål", "Ute", "ladvvxut"]
legend_values = [": 36,48 C", ": 42,21 C", ": 0,57 C", ": -2,15 C", ": 0,50 C", ": -2,21 C", ": -4,91 C", ": 37,59 C"]

RED = "#FF0000"
GREEN = "#00FF00"
DARK = "#3D2232"
MONO = "DejaVu Sans Mono"

W, H = 1897, 968
fig = plt.figure(figsize=(W / 100, H / 100), dpi=100, facecolor="#F3F3F3")
ax = fig.add_axes([67 / W, 1 - 928 / H, (1868 - 67) / W, (928 - 28) / H])
ax.set_facecolor("#FFFFFF")
x0 = (67 - 50.7) / 60
x1 = (1868 - 50.7) / 60
ax.set_xlim(x0, x1)
ax.set_ylim(-40, 110)

# grid like rrdtool: grey dotted minor, red dotted major
dots = (0, (1, 1))
minor_x = [k / 4 for k in range(1, 122) if k % 4 and x0 < k / 4 < x1]
ax.vlines(minor_x, -40, 110, colors="#D6D6D6", lw=0.75, linestyles=dots, zorder=0)
ax.vlines(range(1, 31), -40, 110, colors="#F2A2A2", lw=0.75, linestyles=dots, zorder=0)
ax.hlines([v for v in range(-39, 111) if v % 5], x0, x1, colors="#D6D6D6", lw=0.75, linestyles=dots, zorder=0)
ax.hlines(range(-35, 111, 5), x0, x1, colors="#F2A2A2", lw=0.75, linestyles=dots, zorder=0)

lw = 0.8
ax.plot(t_hi, vbin, color=RED, lw=lw)
ax.plot(t_hi, vbut, color=GREEN, lw=lw)
ax.plot(t_lo, kylbin, color=DARK, lw=lw)
ax.plot(t_lo, kylbut, color=GREEN, lw=lw)
ax.plot(t_lo, franborrhal, color=RED, lw=lw)
ax.plot(t_lo, tillborrhal, color=DARK, lw=lw)
ax.plot(t_ute, ute, color=DARK, lw=lw)
ax.plot(t_hi, ladvvxut, color=GREEN, lw=lw)

for s in ["top", "right"]:
    ax.spines[s].set_visible(False)
for s in ["left", "bottom"]:
    ax.spines[s].set_color("#707070")
    ax.spines[s].set_linewidth(0.9)

ax.set_yticks(range(-40, 111, 5))
ax.set_yticklabels([str(v) for v in range(-40, 111, 5)], fontfamily=MONO, fontsize=7.3)
ax.tick_params(axis="y", length=3, width=0.7, color="#F2A2A2", pad=3)
ax.set_xticks(np.arange(30) + 0.5)
ax.set_xticklabels(day_labels, fontfamily=MONO, fontsize=7.3)
ax.tick_params(axis="x", length=0, pad=4)

# axis arrows
ax.plot([x0], [110.9], marker="^", color="#8B1A1A", markersize=4.5, clip_on=False)
ax.plot([x1 + 5 / 60], [-40], marker=">", color="#8B1A1A", markersize=4.5, clip_on=False)

fig.text(0.5, 1 - 19 / H, "VP3", ha="center", va="center", fontfamily=MONO, fontsize=9)
fig.text(11 / W, 1 - 478 / H, "Grader C", rotation=90, ha="center", va="center",
         fontfamily=MONO, fontsize=8.3)
fig.text(1888 / W, 1 - 5 / H, "RRDTOOL / TOBI OETIKER", rotation=270, ha="center", va="top",
         fontfamily=MONO, fontsize=6.5, color="#A8A8A8")

# legend row
colors = [RED, GREEN, DARK, GREEN, RED, DARK, DARK, GREEN]
box_x = [14, 216, 416, 624, 837, 1079, 1328, 1521]
name_x = [30, 231, 431, 637, 852, 1093, 1343, 1535]
val_x = [131, 330, 545, 751, 1001, 1242, 1435, 1663]
ly = 955
for c, bx, nx, vx, nm, val in zip(colors, box_x, name_x, val_x, legend_names, legend_values):
    fig.add_artist(Rectangle((bx / W, 1 - (ly + 5) / H), 8 / W, 10 / H, facecolor=c,
                             edgecolor="black", lw=0.7, transform=fig.transFigure))
    fig.text(nx / W, 1 - ly / H, nm, ha="left", va="center", fontfamily=MONO, fontsize=8.3)
    fig.text(vx / W, 1 - ly / H, val, ha="left", va="center", fontfamily=MONO, fontsize=8.3)

# frame shading
fig.add_artist(plt.Line2D([0, 1], [1 - 1 / H, 1 - 1 / H], color="#D0D0D0", lw=1.5, transform=fig.transFigure))
fig.add_artist(plt.Line2D([1 / W, 1 / W], [0, 1], color="#D0D0D0", lw=1.5, transform=fig.transFigure))
fig.add_artist(plt.Line2D([0, 1], [1.5 / H, 1.5 / H], color="#9C9C9C", lw=2, transform=fig.transFigure))
fig.add_artist(plt.Line2D([1 - 1.5 / W, 1 - 1.5 / W], [0, 1], color="#9C9C9C", lw=2, transform=fig.transFigure))

fig.savefig("out.png", dpi=100, facecolor=fig.get_facecolor())
